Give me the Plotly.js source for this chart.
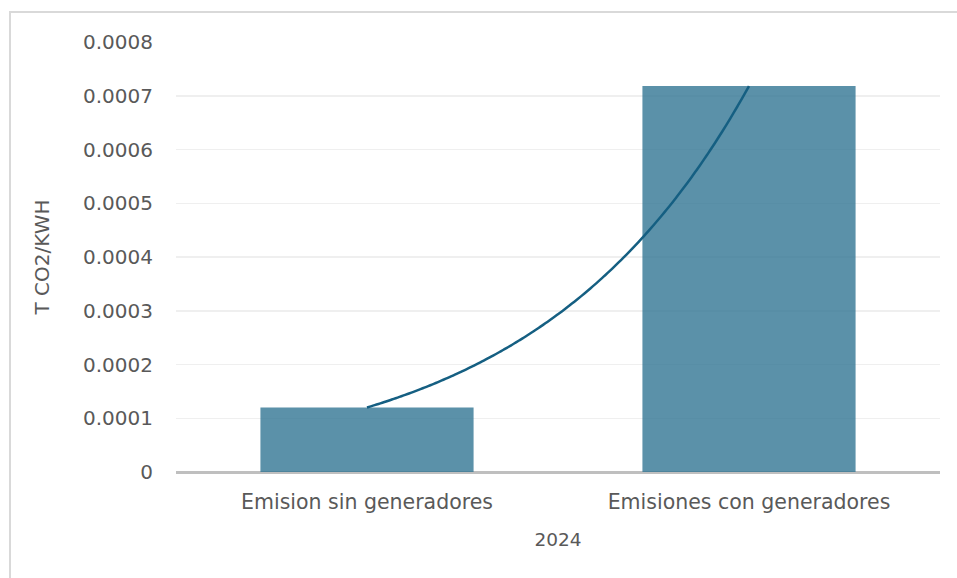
<!DOCTYPE html>
<html>
<head>
<meta charset="utf-8">
<script src="https://cdn.plot.ly/plotly-3.0.1.min.js"></script>
<style>
html,body{margin:0;padding:0;background:#fff;}
#wrap{position:relative;width:957px;height:578px;overflow:hidden;}
#chart{position:absolute;left:0;top:0;width:957px;height:578px;}
#frame{position:absolute;left:9px;top:11px;width:960px;height:580px;border:2px solid #d9d9d9;box-sizing:border-box;pointer-events:none;}
</style>
</head>
<body>
<div id="wrap"><div id="chart"></div><div id="frame"></div></div>
<script>
const categories = ["Emision sin generadores", "Emisiones con generadores"];
const values = [0.000120, 0.000718];
const yTickVals = [0, 0.0001, 0.0002, 0.0003, 0.0004, 0.0005, 0.0006, 0.0007, 0.0008];
const yTickText = ["0", "0.0001", "0.0002", "0.0003", "0.0004", "0.0005", "0.0006", "0.0007", "0.0008"];
const xTitle = "2024";
const yTitle = "T CO2/KWH";

const xPos = categories.map((c, i) => i);

// Exponential trendline fitted to the two bar values (as Excel does)
const b = Math.log(values[1] / values[0]);
const trendX = [], trendY = [];
for (let k = 0; k <= 100; k++) {
  const t = k / 100;
  trendX.push(t);
  trendY.push(values[0] * Math.exp(b * t));
}

const font = "DejaVu Sans, sans-serif";
const col = "#595959";

const data = [
  {
    type: "bar",
    x: xPos,
    y: values,
    width: 0.558,
    marker: {color: "rgba(45,114,145,0.78)"},
    hoverinfo: "skip"
  },
  {
    type: "scatter",
    mode: "lines",
    x: trendX,
    y: trendY,
    line: {color: "#155f82", width: 2.5, shape: "spline"},
    hoverinfo: "skip"
  }
];

const layout = {
  width: 957,
  height: 578,
  margin: {l: 176, r: 17, t: 42, b: 106},
  paper_bgcolor: "#ffffff",
  plot_bgcolor: "#ffffff",
  showlegend: false,
  font: {family: font, color: col, size: 20},
  xaxis: {
    type: "linear",
    range: [-0.5, 1.5],
    tickvals: xPos,
    ticktext: categories,
    showgrid: false,
    zeroline: false,
    showline: false,
    ticks: "",
    ticklabelstandoff: 15,
    tickfont: {family: font, size: 20.5, color: col},
    title: {text: xTitle, font: {family: font, size: 18.5, color: col}, standoff: 20}
  },
  yaxis: {
    range: [0, 0.0008],
    tickvals: yTickVals,
    ticktext: yTickText,
    showgrid: true,
    gridcolor: "#efefef",
    gridwidth: 1.5,
    zeroline: true,
    zerolinecolor: "#bfbfbf",
    zerolinewidth: 3,
    showline: false,
    ticks: "",
    ticklabelstandoff: 22,
    tickfont: {family: font, size: 20, color: col},
    title: {text: yTitle, font: {family: font, size: 20, color: col}, standoff: 28}
  }
};

Plotly.newPlot("chart", data, layout, {displayModeBar: false, staticPlot: true});
</script>
</body>
</html>
